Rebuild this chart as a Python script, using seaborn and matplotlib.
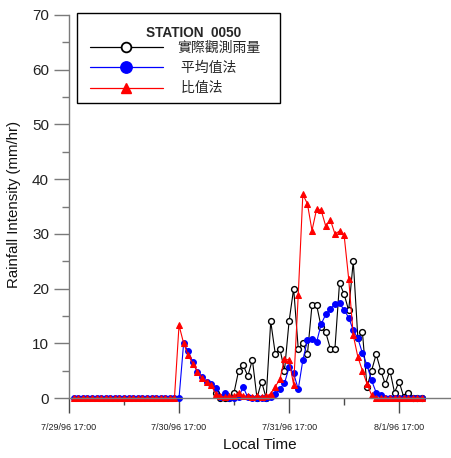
import numpy as np
import pandas as pd
import matplotlib
matplotlib.use("Agg")
import matplotlib.pyplot as plt
from matplotlib.lines import Line2D
from matplotlib.ticker import MultipleLocator
import seaborn as sns

# ---- data (hours since 7/29/96 17:00) ----
hours_model = list(range(1, 78))
ratio_method = ([0.0] * 23 +
                [13.3, 10.0, 7.8, 6.3, 4.8, 3.6, 2.9, 2.3, 0.8, 0.3,
                 0.2, 0.4, 0.3, 1.0, 0.4, 0.3, 0.2, 0.3, 0.2, 0.3,
                 0.8, 2.1, 3.4, 7.2, 6.9, 2.4, 18.8, 37.2, 35.5, 30.6,
                 34.5, 34.3, 31.4, 32.6, 30.0, 30.5, 29.8, 21.8, 11.5, 7.5,
                 5.0, 2.6, 0.5] + [0.0] * 11)
average_method = ([0.0] * 24 +
                  [10.0, 8.5, 6.6, 4.8, 3.9, 3.0, 2.5, 1.9, 0.2, 0.9,
                   0.0, 0.0, 0.2, 2.0, 0.1, 0.0, 0.0, 0.0, 0.0, 0.2,
                   0.8, 1.7, 2.7, 5.6, 4.5, 1.6, 6.9, 10.6, 10.8, 10.2,
                   13.5, 15.3, 16.2, 17.2, 17.3, 16.1, 14.7, 12.4, 10.9, 8.2,
                   6.0, 3.2, 1.0, 0.5] + [0.0] * 9)
hours_obs = list(range(32, 78))
observed = [1, 0, 0, 0, 1, 5, 6, 4, 7, 0,
            3, 0, 14, 8, 9, 5, 14, 20, 9, 10,
            8, 17, 17, 13, 12, 9, 9, 21, 19, 16,
            25, 11, 12, 2, 5, 8, 5, 2.5, 5, 1,
            3, 0.2, 1, 0, 0, 0]

tick_hours = [0, 24, 48, 72]
tick_labels = ["7/29/96 17:00", "7/30/96 17:00", "7/31/96 17:00", "8/1/96 17:00"]
series_names = ["實際觀測雨量", " 平均值法", " 比值法"]
legend_title = "STATION  0050"

df_model = pd.DataFrame({"t": hours_model, "ratio": ratio_method, "avg": average_method})
df_obs = pd.DataFrame({"t": hours_obs, "obs": observed})

sns.set_theme(style="white")
plt.rcParams["font.family"] = ["Liberation Sans", "Noto Sans CJK TC"]

fig = plt.figure(figsize=(4.51, 4.58), dpi=100)
W, H = 451, 458
ax = fig.add_axes([69 / W, 60 / H, (450 - 69) / W, 383 / H])

sns.lineplot(data=df_obs, x="t", y="obs", ax=ax, color="black", lw=0.8,
             marker="o", ms=4.2, mfc="white", mec="black", mew=1.0, clip_on=False)
sns.lineplot(data=df_model, x="t", y="avg", ax=ax, color="#0000FF", lw=0.8,
             marker="o", ms=4.2, mec="#0000FF", mfc="#0000FF", clip_on=False)
sns.lineplot(data=df_model, x="t", y="ratio", ax=ax, color="#FF0000", lw=0.8,
             marker="^", ms=4.5, mec="#FF0000", mfc="#FF0000", clip_on=False)

ax.set_xlim(0, 83.1)
ax.set_ylim(0, 70)
for s in ["top", "right"]:
    ax.spines[s].set_visible(False)
for s in ["left", "bottom"]:
    ax.spines[s].set_color("#7a7a7a")
    ax.spines[s].set_linewidth(1.0)

ax.set_xticks(tick_hours)
ax.set_xticklabels(tick_labels, fontsize=6.5)
ax.xaxis.set_minor_locator(MultipleLocator(12))
ax.yaxis.set_major_locator(MultipleLocator(10))
ax.yaxis.set_minor_locator(MultipleLocator(5))
ax.tick_params(axis="x", which="major", direction="out", length=10.8, width=1.0,
               color="#4a4a4a", pad=7, labelcolor="#222222", bottom=True)
ax.tick_params(axis="x", which="minor", direction="out", length=5, width=1.0,
               color="#4a4a4a", bottom=True)
ax.tick_params(axis="y", which="major", direction="out", length=10.8, width=1.0,
               color="#7a7a7a", pad=3.6, labelsize=11, labelcolor="#222222", left=True)
ax.tick_params(axis="y", which="minor", direction="out", length=5, width=1.0,
               color="#7a7a7a", left=True)

ax.set_xlabel("Local Time", fontsize=11, color="#111111")
ax.xaxis.set_label_coords(0.5, -0.123)
ax.xaxis.label.set_va("center")
ax.set_ylabel("Rainfall Intensity (mm/hr)", fontsize=10.8, color="#111111")
ax.yaxis.set_label_coords(-0.144, 0.506)
ax.yaxis.label.set_va("center")

handles = [
    Line2D([], [], color="black", lw=0.9, marker="o", ms=7, mfc="white", mec="black", mew=1.3),
    Line2D([], [], color="#0000FF", lw=0.9, marker="o", ms=8.2, mfc="#0000FF", mec="#0000FF"),
    Line2D([], [], color="#FF0000", lw=0.9, marker="^", ms=7.5, mfc="#FF0000", mec="#FF0000"),
]
leg = ax.legend(handles, series_names, title=legend_title,
                loc="upper left", bbox_to_anchor=((77 - 69) / 381, (398 - 13) / 383, (280 - 77) / 381, 0.0),
                mode="expand", borderaxespad=0, fontsize=10, title_fontsize=9.8,
                handlelength=5.3, handletextpad=1.0, borderpad=0.55, labelspacing=0.45,
                frameon=True, fancybox=False, edgecolor="black", framealpha=1)
leg.get_frame().set_linewidth(1.0)
leg.get_title().set_fontweight("bold")
leg.get_title().set_position((15, -5))
for ln in leg.get_lines():
    ln.set_xdata(np.asarray(ln.get_xdata()) + 3.6)
for tx in leg.get_texts():
    tx.set_position((5, 0))

fig.savefig("out.png", dpi=100)
